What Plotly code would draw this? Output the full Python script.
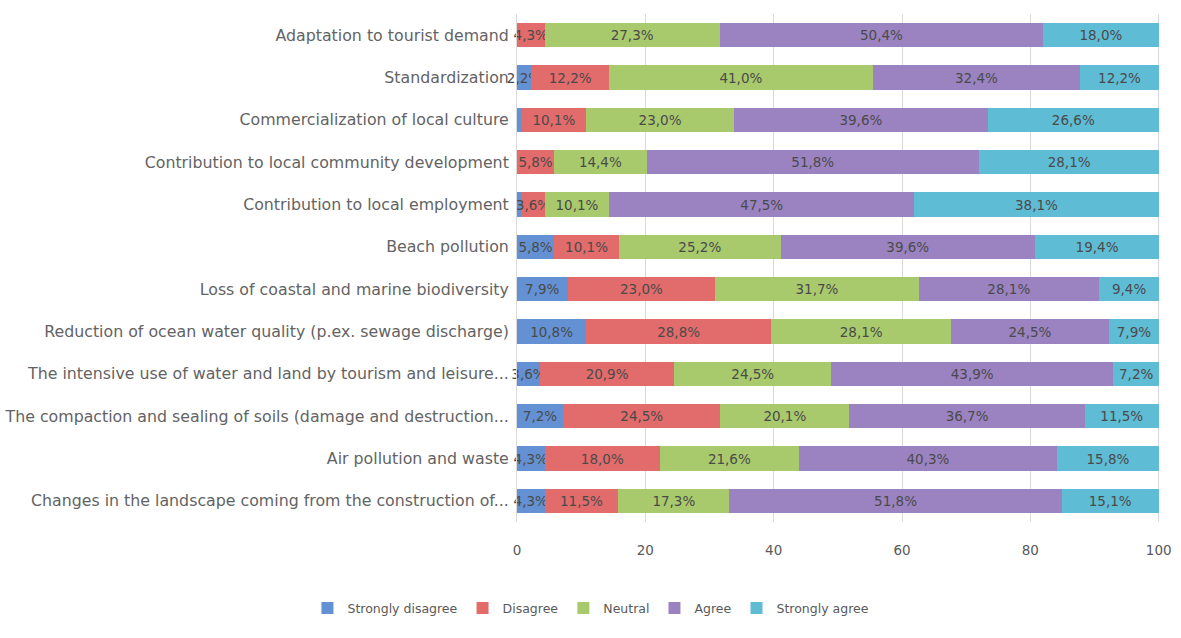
import plotly.graph_objects as go

categories = [
    "Adaptation to tourist demand",
    "Standardization",
    "Commercialization of local culture",
    "Contribution to local community development",
    "Contribution to local employment",
    "Beach pollution",
    "Loss of coastal and marine biodiversity",
    "Reduction of ocean water quality (p.ex. sewage discharge)",
    "The intensive use of water and land by tourism and leisure...",
    "The compaction and sealing of soils (damage and destruction...",
    "Air pollution and waste",
    "Changes in the landscape coming from the construction of...",
]

strongly_disagree = [0, 2.2, 0.7, 0, 0.7, 5.8, 7.9, 10.8, 3.6, 7.2, 4.3, 4.3]
disagree = [4.3, 12.2, 10.1, 5.8, 3.6, 10.1, 23.0, 28.8, 20.9, 24.5, 18.0, 11.5]
neutral = [27.3, 41.0, 23.0, 14.4, 10.1, 25.2, 31.7, 28.1, 24.5, 20.1, 21.6, 17.3]
agree = [50.4, 32.4, 39.6, 51.8, 47.5, 39.6, 28.1, 24.5, 43.9, 36.7, 40.3, 51.8]
strongly_agree = [18.0, 12.2, 26.6, 28.1, 38.1, 19.4, 9.4, 7.9, 7.2, 11.5, 15.8, 15.1]

series_names = ["Strongly disagree", "Disagree", "Neutral", "Agree", "Strongly agree"]
series_values = [strongly_disagree, disagree, neutral, agree, strongly_agree]
colors = ["#6391d4", "#e26b6b", "#a8ca6c", "#9b83c1", "#5fbcd5"]

FONT = "DejaVu Sans"

def fmt(v):
    return (f"{v:.1f}%".replace(".", ",")) if v >= 1 else ""

fig = go.Figure()
for name, vals, col in zip(series_names, series_values, colors):
    fig.add_trace(go.Bar(
        y=categories, x=vals, name=name, orientation="h",
        marker=dict(color=col, line=dict(width=0)),
        text=[fmt(v) for v in vals], textposition="inside", textangle=0,
        insidetextanchor="middle", constraintext="none", cliponaxis=False,
        textfont=dict(family=FONT, size=13.5, color="#4a4a4a"),
        hoverinfo="skip",
    ))

fig.update_layout(
    barmode="stack",
    bargap=0.43,
    width=1181, height=638,
    margin=dict(l=517, r=21, t=14, b=116),
    plot_bgcolor="white", paper_bgcolor="white",
    font=dict(family=FONT, size=12, color="#595959"),
    showlegend=True,
    legend=dict(orientation="h", x=0.115, xanchor="center", y=-0.17, yanchor="middle",
                traceorder="normal", font=dict(size=12.5, color="#595959"),
                itemwidth=30),
)
fig.update_xaxes(range=[0, 100.2], tickvals=[0, 20, 40, 60, 80, 100], showgrid=True,
                 gridcolor="#d9d9d9", zeroline=False, showline=False, ticks="",
                 ticklabelstandoff=18, automargin=False,
                 tickfont=dict(size=13.5, color="#595959"))
fig.update_yaxes(autorange="reversed", showline=True, linecolor="#d9d9d9",
                 ticks="", ticklabelstandoff=4, automargin=False,
                 tickfont=dict(size=15.8, color="#636363"))

fig.write_html("out.html")
